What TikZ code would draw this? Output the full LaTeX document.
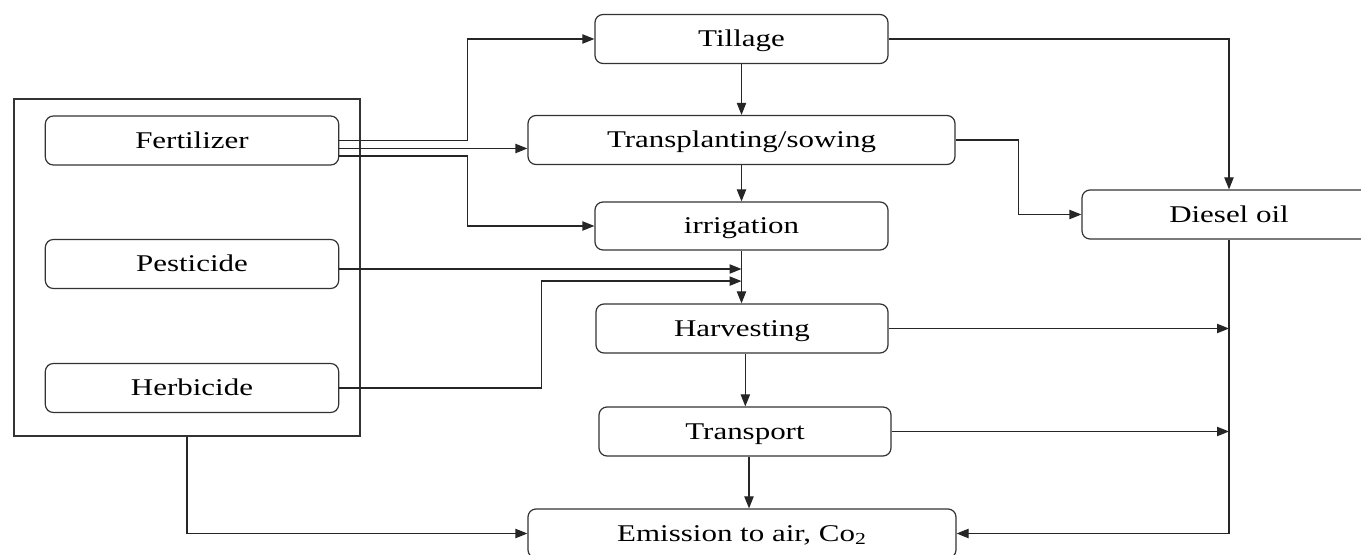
\documentclass[tikz,border=0pt]{standalone}
\usepackage{fontspec}
\setmainfont{Liberation Serif}
\newcommand\sx[1]{\scalebox{1.29}[1]{#1}}
\usetikzlibrary{arrows.meta,calc}
\begin{document}
\begin{tikzpicture}[x=0.75pt,y=-0.75pt,
  box/.style={draw=black!80, line width=0.9pt, rounded corners=6pt, minimum height=36.75pt, inner sep=0pt, text height=13pt, text depth=1pt, font=\fontsize{18pt}{21pt}\selectfont},
  conn/.style={draw=black!85, line width=0.9pt, -{Triangle[length=9pt,width=7pt]}},
  plainline/.style={draw=black!80, line width=0.9pt}]
\clip (0,0) rectangle (1361,555);
% input group
\node[plainline, minimum width=259.5pt, minimum height=252.75pt, inner sep=0pt] (grp) at (187,267.5) {};
\node[box, minimum width=220pt] (fert) at (192,140.5) {\sx{Fertilizer}};
\node[box, minimum width=220pt] (pest) at (192,264) {\sx{Pesticide}};
\node[box, minimum width=220pt] (herb) at (192,388) {\sx{Herbicide}};
% process chain
\node[box, minimum width=219.75pt] (till) at (741.5,39) {\sx{Tillage}};
\node[box, minimum width=320.25pt] (trans) at (741.5,140) {\sx{Transplanting/sowing}};
\node[box, minimum width=219.75pt, minimum height=36pt] (irr) at (741.5,226) {\sx{irrigation}};
\node[box, minimum width=219pt] (harv) at (742,328.5) {\sx{Harvesting}};
\node[box, minimum width=219pt] (transp) at (745,431.5) {\sx{Transport}};
\node[box, minimum width=321pt] (emis) at (742,533.5) {\sx{Emission to air, Co\textsubscript{2}}};
\node[box, minimum width=220.5pt] (diesel) at (1229,214.5) {\sx{Diesel oil}};
% fertilizer connectors
\coordinate (f2) at ($(fert.east)+(0,8)$);
\coordinate (f3) at ($(fert.east)+(0,15.5)$);
\draw[conn] (fert.east) -- ++(128,0) |- (till.west);
\draw[conn] (f2) -- (f2 -| trans.west);
\draw[conn] (f3) -- ++(128,0) |- (irr.west);
% pesticide / herbicide
\coordinate (p1) at ($(pest.east)+(0,5)$);
\draw[conn] (p1) -- (p1 -| irr.south);
\coordinate (hin) at ($(irr.south)+(0,30.5)$);
\draw[conn] (herb.east) -- ++(202,0) |- (hin);
% chain arrows
\draw[conn] (till.south) -- (trans.north);
\draw[conn] (trans.south) -- (irr.north);
\draw[conn] (irr.south) -- (irr.south |- harv.north);
\draw[conn] ([xshift=2.5pt]harv.south) -- ([xshift=2.5pt]harv.south |- transp.north);
\draw[conn] ([xshift=3pt]transp.south) -- ([xshift=3pt]transp.south |- emis.north);
% diesel connectors
\draw[conn] (till.east) -| (diesel.north);
\draw[conn] (trans.east) -- ++(63,0) |- (diesel.west);
\draw[conn] (diesel.south) |- (emis.east);
\draw[conn] (harv.east) -- (harv.east -| diesel.south);
\draw[conn] (transp.east) -- (transp.east -| diesel.south);
% group to emission
\draw[conn] (grp.south) |- (emis.west);
\end{tikzpicture}
\end{document}
